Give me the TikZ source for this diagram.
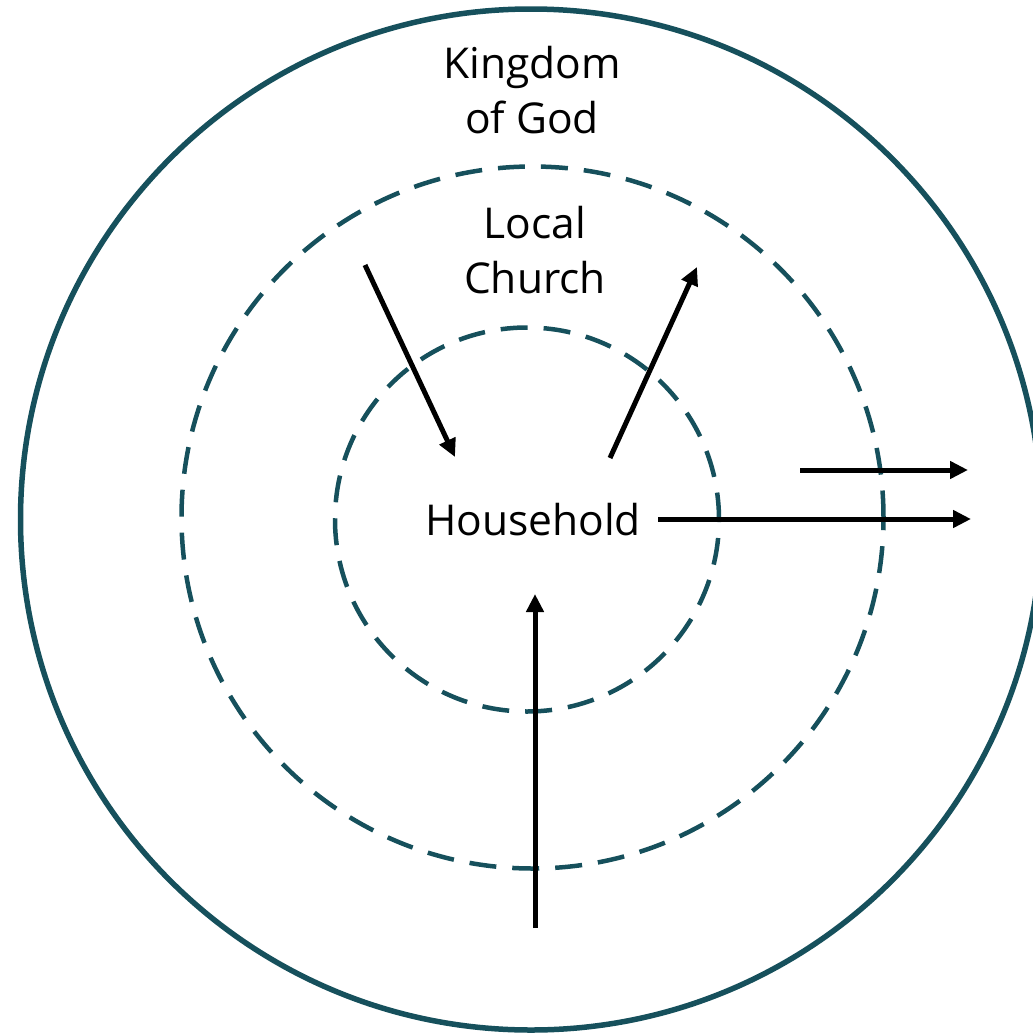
\documentclass[tikz,border=0pt]{standalone}
\usepackage{fontspec}
\setmainfont{Open Sans}
\usetikzlibrary{arrows.meta}
\definecolor{teal}{RGB}{22,80,92}
\tikzset{
  ring/.style={draw=teal, line width=5.5pt},
  dashring/.style={draw=teal, line width=4.5pt, dash pattern=on 27pt off 16pt},
  flow/.style={draw=black, line width=5pt, -{Triangle[length=18pt 0,width=17pt 0]}},
  lbl/.style={font=\fontsize{42.5}{55}\selectfont, align=center, inner sep=0pt, text=black}
}
\begin{document}
\begin{tikzpicture}[x=1pt,y=-1pt]
\useasboundingbox (0,0) rectangle (1033,1034);
\draw[ring] (531,519.5) circle[radius=510.5pt];
\draw[dashring] (532.5,517.5) circle[radius=351pt];
\draw[dashring] (527,519.5) circle[radius=192pt];
\node[lbl] (kingdom) at (532,90) {Kingdom\\of God};
\node[lbl] (church) at (535,250) {Local\\Church};
\node[lbl] (household) at (533,520) {Household};
\coordinate (a1s) at (365,265); \coordinate (a1e) at (455,457);
\coordinate (a2s) at (610,458); \coordinate (a2e) at (697,267);
\coordinate (a3s) at (800,470); \coordinate (a3e) at (968,470);
\coordinate (a4s) at (658,519); \coordinate (a4e) at (971,519);
\coordinate (a5s) at (535,928); \coordinate (a5e) at (535,594);
\draw[flow] (a1s) -- (a1e);
\draw[flow] (a2s) -- (a2e);
\draw[flow] (a3s) -- (a3e);
\draw[flow] (a4s) -- (a4e);
\draw[flow] (a5s) -- (a5e);
\end{tikzpicture}
\end{document}
